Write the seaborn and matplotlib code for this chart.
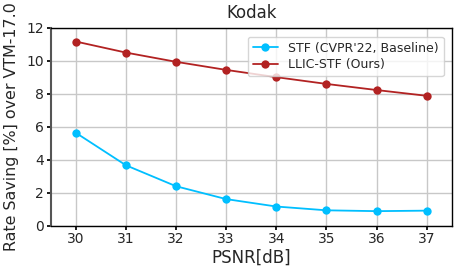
import numpy as np
import pandas as pd
import seaborn as sns
import matplotlib.pyplot as plt

# Data
psnr = [30, 31, 32, 33, 34, 35, 36, 37]
stf_saving = [5.62, 3.65, 2.38, 1.60, 1.15, 0.92, 0.87, 0.90]
llic_saving = [11.15, 10.48, 9.92, 9.43, 8.99, 8.58, 8.21, 7.86]
series_names = ["STF (CVPR'22, Baseline)", "LLIC-STF (Ours)"]
palette = ['#00bfff', '#b22222']

df = pd.DataFrame({
    'PSNR': psnr * 2,
    'saving': stf_saving + llic_saving,
    'method': [series_names[0]] * len(psnr) + [series_names[1]] * len(psnr),
})

sns.set_theme(style='whitegrid')
plt.rcParams['font.family'] = ['DejaVu Sans']

fig, ax = plt.subplots(figsize=(4.61, 2.75), dpi=100)
sns.lineplot(data=df, x='PSNR', y='saving', hue='method', palette=palette,
             marker='o', markersize=6, markeredgewidth=0, linewidth=1.3, ax=ax)

ax.set_xlim(29.5, 37.5)
ax.set_ylim(0, 12)
ax.set_xticks(psnr)
ax.set_yticks([0, 2, 4, 6, 8, 10, 12])
ax.tick_params(axis='both', labelsize=10, length=3, color='black', pad=2)
ax.tick_params(axis='both', which='both', bottom=True, left=True)
ax.grid(True, color='#c8c8c8', linewidth=1)
for side in ['top', 'right', 'bottom', 'left']:
    ax.spines[side].set_color('black')
    ax.spines[side].set_linewidth(1)
ax.spines['left'].set_color('#555555')
ax.spines['left'].set_linewidth(1.5)

ax.set_title('Kodak', fontsize=12, pad=7)
ax.set_xlabel('PSNR[dB]', fontsize=12, labelpad=2)
ax.set_ylabel('Rate Saving [%] over VTM-17.0', fontsize=11.4, labelpad=5)

leg = ax.legend(loc='upper right', fontsize=9, frameon=True, title=None,
                borderpad=0.4, handlelength=2, labelspacing=0.3,
                bbox_to_anchor=(0.995, 0.985))
leg.get_frame().set_edgecolor('#cccccc')

fig.subplots_adjust(left=0.11, right=0.98, top=0.9, bottom=0.18)
fig.savefig('out.png', dpi=100)
